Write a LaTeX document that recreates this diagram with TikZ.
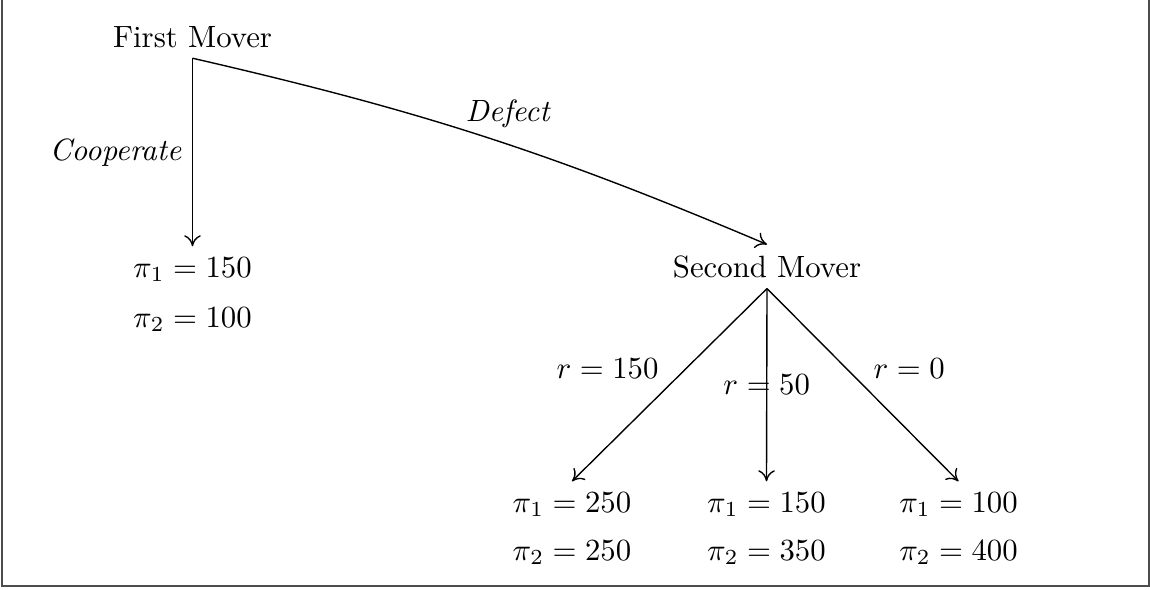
\documentclass[tikz,border=0pt]{standalone}
\usetikzlibrary{arrows.meta}
\begin{document}
\begin{tikzpicture}[x=0.325pt,y=-0.325pt,
  lbl/.style={anchor=base},
  edge/.style={-{To[length=3.6pt,width=5.4pt]},line width=0.45pt},
  frame/.style={draw=black!70,line width=0.7pt}]
\useasboundingbox (0,0) rectangle (1150,589);
\draw[frame] (2,0) -- (2,586) -- (1149,586) -- (1149,0);
% nodes
\node[lbl] (fm) at (192.5,47) {First Mover};
\node[lbl] (c1) at (192.5,277) {$\pi_1 = 150$};
\node[lbl] (c2) at (192.5,327) {$\pi_2 = 100$};
\node[lbl] (sm) at (767,277) {Second Mover};
\node[lbl] (l1) at (572,512) {$\pi_1 = 250$};
\node[lbl] (l2) at (572,560) {$\pi_2 = 250$};
\node[lbl] (m1) at (766.5,512) {$\pi_1 = 150$};
\node[lbl] (m2) at (766.5,560) {$\pi_2 = 350$};
\node[lbl] (r1) at (958.5,512) {$\pi_1 = 100$};
\node[lbl] (r2) at (958.5,560) {$\pi_2 = 400$};
% connectors
\draw[edge] (fm.south) -- node[left] {\textit{Cooperate}} (c1.north);
\draw[edge] (fm.south) to[bend left=5] node[pos=0.545,above=2pt] {\textit{Defect}} (sm.north);
\draw[edge] (sm.south) -- node[midway,above left,yshift=-1.5pt] {$r = 150$} (l1.north);
\draw[edge] (sm.south) -- node[midway] {$r = 50$} (m1.north);
\draw[edge] (sm.south) -- node[midway,above right,yshift=-1.5pt] {$r = 0$} (r1.north);
\end{tikzpicture}
\end{document}
